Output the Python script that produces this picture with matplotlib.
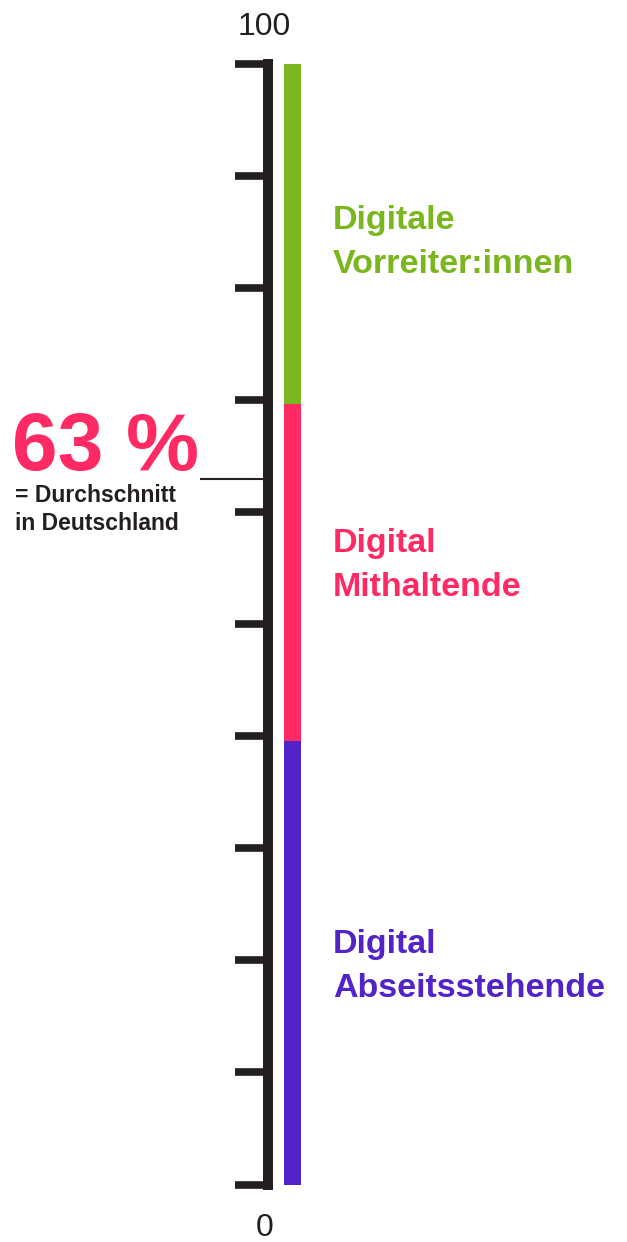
import matplotlib.pyplot as plt

# Segment shares (bottom to top) and labels
segments = ["Digital\nAbseitsstehende", "Digital\nMithaltende", "Digitale\nVorreiter:innen"]
shares = [39.6, 30.1, 30.3]
colors = ["#5223C8", "#FF2A63", "#7AB61D"]
label_y = [16.7, 52.5, 81.35]   # baseline of last label line

ticks = list(range(0, 101, 10))
tick_labels = ["0", "100"]
average = 63

dark = "#231F20"
plt.rcParams['font.family'] = ['Liberation Sans', 'DejaVu Sans']

fig = plt.figure(figsize=(6.27, 12.42), dpi=100)
ax = fig.add_axes([0, 0, 1, 1])
ax.set_xlim(0, 627)
ax.set_ylim(-5.13, 105.71)
ax.axis('off')

# scale: vertical line plus ticks every 10
ax.plot([268, 268], [0, 100], color=dark, lw=7.2, solid_capstyle='projecting')
ax.hlines(ticks, 235, 273, color=dark, lw=5.5)
ax.text(264, 102.6, tick_labels[1], ha='center', va='baseline', fontsize=23, color=dark)
ax.text(265, -4.6, tick_labels[0], ha='center', va='baseline', fontsize=23, color=dark)

# stacked bar
bottom = 0
for share, col in zip(shares, colors):
    ax.bar(292.5, share, width=17, bottom=bottom, color=col, linewidth=0)
    bottom += share

for name, col, y in zip(segments, colors, label_y):
    ax.text(333, y, name, ha='left', va='baseline', fontsize=24.5,
            fontweight='bold', color=col, linespacing=1.55)

# average marker
ax.hlines(average, 200, 263, color=dark, lw=1.5)
ax.text(12, 63.8, f"{average} %", ha='left', va='baseline', fontsize=59,
        fontweight='bold', color=colors[1])
ax.text(15, 58.4, "= Durchschnitt\nin Deutschland", ha='left', va='baseline',
        fontsize=16.5, fontweight='bold', color=dark, linespacing=1.3)

fig.savefig("out.png", dpi=100)
